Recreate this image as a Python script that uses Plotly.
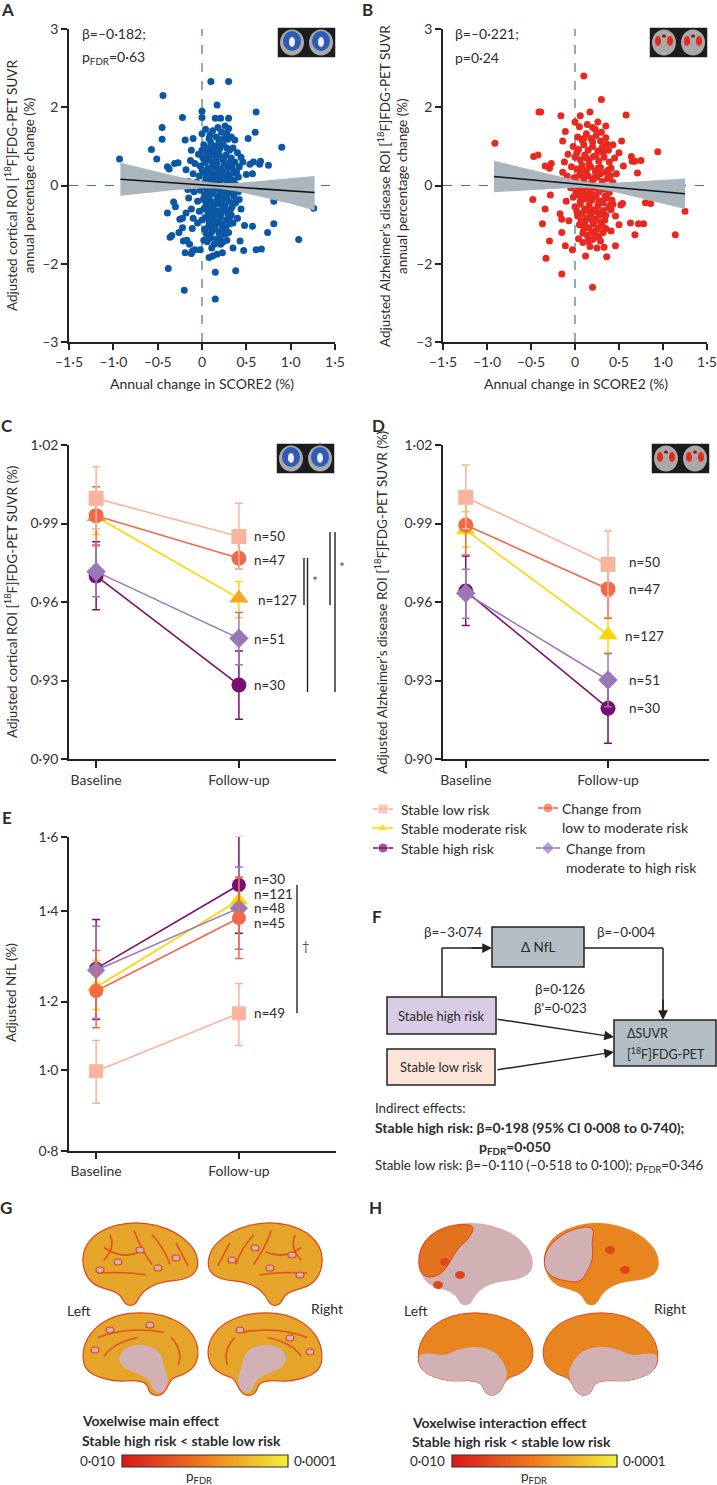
import plotly.graph_objects as go

W, H = 717, 1485
MAIN = "Lato, 'Noto Sans', sans-serif"
TXT = "#2b2b2b"
AX = "#222222"

# ---------------- data ----------------
# A / B: y is in plotted units (axis ticks in the source are evenly spaced: -3, -2, 0, 2, 3)
A_pts = [
    (0.10, 1.33), (0.30, 1.33), (-0.44, 1.15), (0.17, 1.03), (0.00, 0.95), (0.61, 0.94),
    (0.00, 0.87), (-0.22, 0.87), (0.15, 0.86), (0.21, 0.86), (0.30, 0.86),
    (-0.45, 0.74), (0.18, 0.74), (0.26, 0.76), (0.30, 0.73), (0.60, 0.68),
    (-0.45, 0.59), (-0.19, 0.58), (-0.10, 0.60), (0.00, 0.66), (0.09, 0.65), (0.19, 0.59),
    (0.28, 0.67), (0.29, 0.59), (0.37, 0.58), (0.52, 0.60),
    (0.90, 0.49), (-0.57, 0.46), (-0.93, 0.34), (-0.51, 0.34), (-0.37, 0.21), (-0.31, 0.28),
    (-0.27, 0.29), (-0.39, 0.24), (-0.18, 0.20),
    (0.46, 0.30), (0.58, 0.30), (0.65, 0.27), (0.75, 0.26), (0.54, 0.27), (0.66, 0.31), (0.50, 0.14), (0.57, 0.15),
    (1.26, -0.29), (0.81, -0.20), (1.09, -0.69), (0.81, -0.49), (0.74, -0.60), (0.67, -0.81), (0.57, -0.52),
    (0.48, -0.51), (0.61, -0.82), (0.47, -0.83), (0.43, -0.71), (0.35, -0.80),
    (0.38, -1.09), (0.15, -1.11), (0.15, -1.45), (-0.20, -1.34), (-0.38, -1.06),
    (-0.36, -0.66), (-0.34, -0.64), (-0.39, -0.35), (-0.32, -0.21), (-0.22, -0.42), (-0.22, -0.54),
    (-0.21, -0.71), (-0.26, -0.60), (-0.25, -0.43), (-0.30, -0.27), (-0.12, -0.30), (-0.15, -0.16),
    (-0.05, -0.48), (-0.02, -0.82), (-0.12, -0.87), (-0.11, -0.84), (-0.08, -0.82), (-0.17, -0.70),
    (-0.14, -0.75), (-0.19, -0.86),
    (0.02, -0.70), (0.06, -0.72), (0.10, -0.67), (0.14, -0.75), (0.12, -0.90), (0.08, -0.92), (0.23, -0.86),
    (0.20, -0.69), (0.24, -0.72), (0.30, -0.60), (0.35, -0.48), (0.40, -0.42), (0.33, -0.38), (0.37, -0.22),
    (0.42, -0.18), (0.44, -0.30),
    (0.02, 0.52), (0.06, 0.48), (0.10, 0.55), (0.14, 0.50), (0.20, 0.47), (0.24, 0.52), (0.31, 0.45), (0.35, 0.48), (0.40, 0.42),
    (-0.04, 0.40), (0.01, 0.35), (0.05, 0.41), (0.09, 0.38), (0.13, 0.43), (0.16, 0.36), (0.19, 0.40), (0.23, 0.34),
    (0.27, 0.39), (0.33, 0.35), (0.37, 0.30), (0.44, 0.36),
    (-0.08, 0.28), (-0.02, 0.25), (0.03, 0.29), (0.07, 0.22), (0.11, 0.30), (0.14, 0.24), (0.17, 0.28), (0.21, 0.21),
    (0.25, 0.27), (0.29, 0.22), (0.34, 0.24), (0.39, 0.18), (0.42, 0.24),
    (-0.10, 0.15), (-0.03, 0.12), (0.02, 0.17), (0.05, 0.10), (0.09, 0.15), (0.12, 0.08), (0.16, 0.16), (0.19, 0.10),
    (0.22, 0.14), (0.26, 0.09), (0.31, 0.13), (0.36, 0.07), (0.41, 0.11),
    (-0.06, 0.04), (0.00, 0.02), (0.04, 0.05), (0.08, -0.01), (0.11, 0.03), (0.15, -0.02), (0.18, 0.04), (0.23, -0.03),
    (0.28, 0.02), (0.33, -0.02), (0.38, 0.01),
    (-0.09, -0.08), (-0.02, -0.06), (0.03, -0.12), (0.06, -0.07), (0.10, -0.11), (0.13, -0.05), (0.17, -0.13), (0.20, -0.08),
    (0.24, -0.12), (0.27, -0.06), (0.32, -0.10), (0.36, -0.14), (0.41, -0.08),
    (-0.05, -0.20), (0.01, -0.18), (0.05, -0.24), (0.09, -0.19), (0.12, -0.26), (0.15, -0.21), (0.19, -0.24), (0.22, -0.18),
    (0.26, -0.25), (0.30, -0.20), (0.34, -0.27),
    (-0.03, -0.33), (0.02, -0.30), (0.07, -0.35), (0.10, -0.31), (0.14, -0.37), (0.18, -0.33), (0.21, -0.38), (0.25, -0.32),
    (0.29, -0.36), (0.32, -0.31),
    (0.00, -0.44), (0.04, -0.41), (0.08, -0.47), (0.12, -0.43), (0.16, -0.49), (0.19, -0.45), (0.23, -0.50), (0.27, -0.44), (0.31, -0.49),
    (0.03, -0.56), (0.07, -0.53), (0.11, -0.59), (0.15, -0.55), (0.19, -0.60), (0.23, -0.56), (0.26, -0.62),
    (0.09, -0.66), (0.17, -0.68), (0.21, -0.64),
    (-0.12, 0.45), (-0.13, 0.32), (-0.15, 0.05), (-0.16, -0.05), (-0.18, -0.35), (-0.10, -0.42), (-0.11, -0.55),
    (0.04, 0.72), (0.12, 0.70), (0.22, 0.68), (0.08, 0.60), (0.16, 0.62), (0.25, 0.60), (0.33, 0.62),
    (0.00, 0.45), (0.11, 0.46), (0.18, 0.52), (0.28, 0.48), (0.07, 0.33), (0.15, 0.30), (0.25, 0.35), (0.31, 0.29),
    (0.00, 0.20), (0.10, 0.22), (0.18, 0.19), (0.27, 0.17), (0.35, 0.16), (0.07, 0.07), (0.14, 0.10), (0.21, 0.07),
    (0.30, 0.06), (0.01, -0.02), (0.12, -0.08), (0.20, 0.00), (0.26, -0.13), (0.35, -0.06), (0.07, -0.16),
    (0.17, -0.19), (0.28, -0.17), (0.38, -0.22), (0.04, -0.27), (0.13, -0.30), (0.24, -0.28), (0.31, -0.41),
    (0.09, -0.40), (0.20, -0.41), (0.27, -0.53), (0.13, -0.52), (0.05, -0.62), (0.21, -0.75), (0.28, -0.70),
    (0.11, -0.80), (0.17, -0.88),
]

B_pts = [
    (0.10, 1.40), (0.30, 1.10), (-0.41, 0.94), (-0.39, 0.94), (-0.16, 0.89), (0.00, 0.81), (0.06, 0.89), (0.17, 0.94), (0.58, 0.90),
    (0.26, 0.81), (0.35, 0.76), (0.20, 0.74), (-0.11, 0.69), (-0.14, 0.57), (0.53, 0.57), (0.94, 0.43), (-0.91, 0.54),
    (-0.47, 0.37), (-0.42, 0.39), (-0.27, 0.28), (-0.29, 0.22), (-0.34, 0.25), (-0.14, 0.17),
    (0.64, 0.37), (0.65, 0.31), (0.68, 0.31), (0.75, 0.32), (0.71, 0.16), (0.50, 0.42), (0.55, 0.25), (0.47, 0.15),
    (-0.48, -0.18), (-0.28, -0.12), (-0.34, -0.30), (-0.37, -0.49), (-0.29, -0.71), (-0.33, -0.93), (-0.15, -1.13), (0.20, -1.30),
    (0.80, -0.22), (0.86, -0.23), (1.14, -0.63), (1.25, -0.33),
    (0.72, -0.49), (0.78, -0.49), (0.68, -0.63), (0.63, -0.48),
    (0.46, -0.77), (0.36, -0.91), (0.33, -0.79), (-0.03, -0.82), (-0.11, -0.77), (-0.17, -0.36), (-0.15, -0.43), (-0.15, -0.60),
    (0.41, -0.31), (0.43, -0.24), (0.54, -0.23), (0.52, -0.25), (0.32, -0.22), (0.32, -0.35), (0.46, -0.39),
    (0.41, -0.58), (0.50, -0.50),
    (0.09, -0.73), (0.15, -0.71), (0.20, -0.69), (0.27, -0.65), (0.29, -0.71), (0.32, -0.60),
    (0.03, 0.62), (0.08, 0.58), (0.13, 0.66), (0.18, 0.60), (0.24, 0.64), (0.29, 0.57), (0.35, 0.61),
    (-0.02, 0.50), (0.04, 0.46), (0.10, 0.52), (0.15, 0.45), (0.20, 0.50), (0.26, 0.44), (0.31, 0.49), (0.38, 0.45), (0.43, 0.52),
    (0.00, 0.36), (0.06, 0.33), (0.11, 0.39), (0.16, 0.32), (0.21, 0.37), (0.27, 0.31), (0.33, 0.36), (0.39, 0.30), (0.45, 0.35),
    (-0.04, 0.24), (0.02, 0.21), (0.08, 0.26), (0.13, 0.19), (0.18, 0.24), (0.23, 0.18), (0.29, 0.23), (0.35, 0.17), (0.41, 0.22),
    (-0.01, 0.10), (0.05, 0.13), (0.10, 0.07), (0.15, 0.12), (0.20, 0.06), (0.25, 0.11), (0.31, 0.05), (0.37, 0.09), (0.43, 0.04),
    (-0.05, -0.03), (0.03, -0.01), (0.07, -0.06), (0.12, -0.02), (0.17, -0.07), (0.22, -0.03), (0.27, -0.08), (0.33, -0.04), (0.39, -0.09),
    (-0.02, -0.15), (0.04, -0.12), (0.09, -0.18), (0.14, -0.13), (0.19, -0.19), (0.24, -0.14), (0.30, -0.20), (0.36, -0.16), (0.42, -0.19),
    (0.00, -0.27), (0.06, -0.24), (0.11, -0.30), (0.16, -0.25), (0.21, -0.31), (0.26, -0.26), (0.32, -0.32), (0.38, -0.28),
    (0.03, -0.39), (0.08, -0.36), (0.13, -0.42), (0.18, -0.37), (0.23, -0.43), (0.28, -0.38), (0.34, -0.44),
    (0.05, -0.50), (0.11, -0.48), (0.16, -0.54), (0.21, -0.49), (0.26, -0.55), (0.31, -0.51),
    (0.09, -0.61), (0.14, -0.64), (0.19, -0.60), (0.24, -0.66),
    (-0.08, 0.40), (-0.09, 0.12), (-0.10, -0.20), (-0.07, -0.45), (-0.12, 0.30),
    (0.05, 0.75), (0.14, 0.78), (0.23, 0.72), (0.30, 0.68), (0.10, 0.60), (0.20, 0.56), (0.36, 0.53),
    (0.02, 0.42), (0.13, 0.35), (0.24, 0.38), (0.32, 0.42), (0.07, 0.20), (0.16, 0.26), (0.26, 0.22), (0.38, 0.20),
    (0.01, 0.05), (0.11, 0.12), (0.22, 0.10), (0.29, 0.15), (0.40, 0.12), (0.08, 0.00), (0.18, 0.02), (0.30, -0.01),
    (0.37, -0.03), (0.01, -0.09), (0.10, -0.10), (0.21, -0.12), (0.34, -0.13), (0.06, -0.20), (0.16, -0.18),
    (0.27, -0.21), (0.40, -0.25), (0.02, -0.33), (0.14, -0.32), (0.25, -0.34), (0.35, -0.38), (0.07, -0.45),
    (0.19, -0.44), (0.29, -0.47), (0.10, -0.56), (0.23, -0.58), (0.35, -0.55), (0.04, -0.68), (0.17, -0.78),
    (0.25, -0.80), (0.12, -0.90),
]

A_band_x = [-0.92, -0.6, -0.3, 0.0, 0.17, 0.4, 0.7, 1.0, 1.27]
A_fit = [0.08, 0.055, 0.032, 0.009, -0.004, -0.022, -0.045, -0.069, -0.09]
A_upper = [0.29, 0.205, 0.122, 0.054, 0.031, 0.033, 0.065, 0.096, 0.12]
A_lower = [-0.13, -0.095, -0.058, -0.036, -0.039, -0.077, -0.155, -0.234, -0.32]

B_band_x = [-0.92, -0.6, -0.3, 0.0, 0.2, 0.45, 0.7, 1.0, 1.25]
B_fit = [0.115, 0.082, 0.052, 0.021, 0.001, -0.024, -0.050, -0.080, -0.106]
B_upper = [0.315, 0.227, 0.147, 0.071, 0.036, 0.036, 0.050, 0.070, 0.089]
B_lower = [-0.085, -0.063, -0.043, -0.029, -0.034, -0.084, -0.150, -0.230, -0.301]

A_xticks = [-1.5, -1.0, -0.5, 0, 0.5, 1.0, 1.5]
A_xtext = ["\u20131\u00b75", "\u20131\u00b70", "\u20130\u00b75", "0", "0\u00b75", "1\u00b70", "1\u00b75"]
A_yticks = [-2, -1, 0, 1, 2]
A_ytext = ["\u20133", "\u20132", "0", "2", "3"]

# C / D / E groups (order: stable low, low->moderate, stable moderate, moderate->high, stable high)
groups = ["Stable low risk", "Change from low to moderate risk", "Stable moderate risk",
          "Change from moderate to high risk", "Stable high risk"]
g_colors = ["#F8B49C", "#F2694A", "#FFD500", "#9A78B8", "#7B0F6F"]
g_symbols = ["square", "circle", "triangle-up", "diamond", "circle"]
time_labels = ["Baseline", "Follow-up"]

C_base = [0.9996, 0.9930, 0.9926, 0.9716, 0.9700]
C_base_hi = [1.0117, 1.0040, 0.9999, 0.9818, 0.9830]
C_base_lo = [0.9880, 0.9815, 0.9858, 0.9620, 0.9570]
C_follow = [0.9850, 0.9767, 0.9614, 0.9461, 0.9283]
C_follow_hi = [0.9977, 0.9875, 0.9678, 0.9560, 0.9413]
C_follow_lo = [0.9727, 0.9727, 0.9540, 0.9360, 0.9152]
C_n = ["n=50", "n=47", "n=127", "n=51", "n=30"]

D_base = [1.0000, 0.9894, 0.9875, 0.9633, 0.9642]
D_base_hi = [1.0124, 1.0009, 0.9945, 0.9725, 0.9776]
D_base_lo = [0.9880, 0.9780, 0.9810, 0.9538, 0.9510]
D_follow = [0.9744, 0.9650, 0.9474, 0.9302, 0.9194]
D_follow_hi = [0.9871, 0.9760, 0.9540, 0.9404, 0.9323]
D_follow_lo = [0.9620, 0.9538, 0.9400, 0.9200, 0.9060]
D_n = ["n=50", "n=47", "n=127", "n=51", "n=30"]

CD_yticks = [0.90, 0.93, 0.96, 0.99, 1.02]
CD_ytext = ["0\u00b790", "0\u00b793", "0\u00b796", "0\u00b799", "1\u00b702"]

# E in plotted units (source tick labels are unevenly spaced)
E_base = [1.0025, 1.207, 1.217, 1.260, 1.264]
E_base_hi = [1.081, 1.310, 1.285, 1.372, 1.389]
E_base_lo = [0.921, 1.113, 1.160, 1.137, 1.134]
E_follow = [1.150, 1.393, 1.438, 1.418, 1.477]
E_follow_hi = [1.226, 1.497, 1.498, 1.523, 1.602]
E_follow_lo = [1.068, 1.290, 1.380, 1.313, 1.354]
E_n = ["n=49", "n=45", "n=121", "n=48", "n=30"]
E_yticks = [0.8, 1.006, 1.180, 1.411, 1.6]
E_ytext = ["0\u00b78", "1\u00b70", "1\u00b72", "1\u00b74", "1\u00b76"]

# ---------------- helpers ----------------
def fx(p):
    return p / W


def fy(p):
    return 1 - p / H


def note(x, y, text, size=14, anchor="center", color=TXT, angle=0, yanchor="middle"):
    return dict(x=x, y=y, xref="x6", yref="y6", text=text, showarrow=False, xanchor=anchor,
                yanchor=yanchor, textangle=angle, font=dict(family=MAIN, size=size, color=color))


def seg(x0, y0, x1, y1, color=AX, width=1.5, dash="solid", ref=("x6", "y6"), layer="above"):
    return dict(type="line", x0=x0, y0=y0, x1=x1, y1=y1, xref=ref[0], yref=ref[1],
                line=dict(color=color, width=width, dash=dash), layer=layer)


def box(x0, y0, x1, y1, fill, line=AX, width=1.5):
    return dict(type="rect", x0=x0, y0=y0, x1=x1, y1=y1, xref="x6", yref="y6",
                fillcolor=fill, line=dict(color=line, width=width), layer="above")


def ell(cx, cy, rx, ry, fill, line_w=0, line_c="rgba(0,0,0,0)"):
    return dict(type="circle", x0=cx - rx, x1=cx + rx, y0=cy - ry, y1=cy + ry, xref="x6", yref="y6",
                fillcolor=fill, line=dict(width=line_w, color=line_c), layer="above")


def place(pts, x0, y0, w, h, mirror):
    return [(x0 + ((1 - u) if mirror else u) * w, y0 + v * h) for u, v in pts]


def smooth(pts, x0, y0, w, h, mirror=False):
    c = place(pts, x0, y0, w, h, mirror)
    n = len(c)
    mids = [((c[i][0] + c[(i + 1) % n][0]) / 2, (c[i][1] + c[(i + 1) % n][1]) / 2) for i in range(n)]
    d = "M %.1f,%.1f" % mids[-1]
    for i in range(n):
        d += " Q %.1f,%.1f %.1f,%.1f" % (c[i][0], c[i][1], mids[i][0], mids[i][1])
    return d + " Z"


def blob(pts, x0, y0, w, h, fill, mirror=False, line_c=None, line_w=0):
    return dict(type="path", path=smooth(pts, x0, y0, w, h, mirror), xref="x6", yref="y6",
                fillcolor=fill, line=dict(color=line_c or "rgba(0,0,0,0)", width=line_w), layer="above")


def stroke(pts, x0, y0, w, h, color, mirror=False, width=1.6):
    a, b, c = place(pts, x0, y0, w, h, mirror)
    return dict(type="path", path="M %.1f,%.1f Q %.1f,%.1f %.1f,%.1f" % (a + b + c), xref="x6", yref="y6",
                line=dict(color=color, width=width), opacity=0.85, layer="above")


fig = go.Figure()
shapes, anns = [], []

# ---------------- A & B scatter ----------------
for pts, bx, fit, up, lo, col, xa, ya in [
    (A_pts, A_band_x, A_fit, A_upper, A_lower, "#0B57A4", "x", "y"),
    (B_pts, B_band_x, B_fit, B_upper, B_lower, "#E8291F", "x2", "y2"),
]:
    shapes.append(seg(0, -2, 0, 2, color="#4E7383", width=1.2, dash="dash", ref=(xa, ya), layer="below"))
    shapes.append(seg(-1.5, 0, 1.5, 0, color="#4E7383", width=1.2, dash="dash", ref=(xa, ya), layer="below"))
    fig.add_trace(go.Scatter(x=[p[0] for p in pts], y=[p[1] for p in pts], mode="markers",
                             marker=dict(size=7, color=col), xaxis=xa, yaxis=ya, showlegend=False))
    fig.add_trace(go.Scatter(x=bx, y=up, mode="lines", line=dict(width=0), xaxis=xa, yaxis=ya, showlegend=False))
    fig.add_trace(go.Scatter(x=bx, y=lo, mode="lines", line=dict(width=0), fill="tonexty",
                             fillcolor="#ABB5BD", xaxis=xa, yaxis=ya, showlegend=False))
    fig.add_trace(go.Scatter(x=[bx[0], bx[-1]], y=[fit[0], fit[-1]], mode="lines",
                             line=dict(color="#111111", width=1.6), xaxis=xa, yaxis=ya, showlegend=False))

# ---------------- C, D, E line plots ----------------
draw_order = [2, 4, 3, 1, 0]
for base, bhi, blo, fol, fhi, flo, xa, ya, msz in [
    (C_base, C_base_hi, C_base_lo, C_follow, C_follow_hi, C_follow_lo, "x3", "y3", 15),
    (D_base, D_base_hi, D_base_lo, D_follow, D_follow_hi, D_follow_lo, "x4", "y4", 15),
    (E_base, E_base_hi, E_base_lo, E_follow, E_follow_hi, E_follow_lo, "x5", "y5", 14),
]:
    for g in draw_order:
        col = g_colors[g]
        mcol = "#F6A623" if (xa == "x3" and g == 2) else col
        fig.add_trace(go.Scatter(
            x=[0, 1], y=[base[g], fol[g]], mode="lines+markers", name=groups[g],
            line=dict(color=col, width=1.6),
            marker=dict(symbol=g_symbols[g], size=msz + (2 if g == 2 else 0), color=mcol),
            error_y=dict(type="data", symmetric=False,
                         array=[bhi[g] - base[g], fhi[g] - fol[g]],
                         arrayminus=[base[g] - blo[g], fol[g] - flo[g]],
                         color=col, thickness=1.5, width=4),
            xaxis=xa, yaxis=ya, showlegend=False, cliponaxis=False))

# n labels
for lbl, (x, y) in zip(C_n, [(252, 536), (252, 560), (256, 600), (252, 639), (252, 685)]):
    anns.append(note(x, y, lbl, anchor="left", size=13.5))
for lbl, (x, y) in zip(D_n, [(627, 562), (627, 589), (623, 636), (627, 680), (627, 708)]):
    anns.append(note(x, y, lbl, anchor="left", size=13.5))
for lbl, (x, y) in zip(E_n, [(252, 1013), (252, 923), (252, 894), (252, 908), (252, 879)]):
    anns.append(note(x, y, lbl, anchor="left", size=13.5))

# significance bars
for x, y0, y1 in [(304, 558, 605), (307.5, 558, 692), (330, 532, 605), (335, 532, 692), (297, 885, 1013)]:
    shapes.append(seg(x, y0, x, y1, width=1.4))
anns.append(note(315, 580, "*", size=14, color="#555"))
anns.append(note(342, 566, "*", size=14, color="#555"))
anns.append(note(306, 946, "\u2020", size=13, color="#555"))

# ---------------- legend (drawn) ----------------
leg = [(0, 373, 393, 809), (2, 372, 393, 828), (4, 373, 393, 848), (1, 538, 558, 808), (3, 536, 560, 848)]
for g, x0, x1, y in leg:
    fig.add_trace(go.Scatter(x=[x0, (x0 + x1) / 2, x1], y=[y, y, y], mode="lines+markers",
                             line=dict(color=g_colors[g], width=1.6),
                             marker=dict(symbol=g_symbols[g], size=[0, 10, 0], color=g_colors[g]),
                             xaxis="x6", yaxis="y6", showlegend=False, cliponaxis=False))
anns += [
    note(399, 809, "Stable low risk", anchor="left"),
    note(399, 828, "Stable moderate risk", anchor="left"),
    note(399, 848, "Stable high risk", anchor="left"),
    note(560, 808, "Change from", anchor="left"),
    note(560, 827, "low to moderate risk", anchor="left"),
    note(564, 848, "Change from", anchor="left"),
    note(564, 867, "moderate to high risk", anchor="left"),
]

# ---------------- axis titles / panel text ----------------
anns += [
    note(7, 9, "<b>A</b>", size=17), note(367, 9, "<b>B</b>", size=17),
    note(7, 425, "<b>C</b>", size=17), note(378, 425, "<b>D</b>", size=17),
    note(7, 817, "<b>E</b>", size=17), note(377, 916, "<b>F</b>", size=17),
    note(6, 1207, "<b>G</b>", size=17), note(375, 1207, "<b>H</b>", size=17),
    note(80, 33, "\u03b2=\u20130\u00b7182;", anchor="left", size=14),
    note(80, 57, "p<sub>FDR</sub>=0\u00b763", anchor="left", size=14),
    note(453, 33, "\u03b2=\u20130\u00b7221;", anchor="left", size=14),
    note(453, 57, "p=0\u00b724", anchor="left", size=14),
    note(202, 383, "Annual change in SCORE2 (%)"),
    note(576, 383, "Annual change in SCORE2 (%)"),
    note(19, 186, "Adjusted cortical ROI [<sup>18</sup>F]FDG-PET SUVR<br>annual percentage change (%)", angle=-90, size=13.5),
    note(392, 186, "Adjusted Alzheimer\u2019s disease ROI [<sup>18</sup>F]FDG-PET SUVR<br>annual percentage change (%)", angle=-90, size=13.5),
    note(11, 602, "Adjusted cortical ROI [<sup>18</sup>F]FDG-PET SUVR (%)", angle=-90, size=13.5),
    note(381, 603, "Adjusted Alzheimer\u2019s disease ROI [<sup>18</sup>F]FDG-PET SUVR (%)", angle=-90, size=13.5),
    note(11, 993, "Adjusted NfL (%)", angle=-90, size=13.5),
]

# MRI thumbnails
for x0, y0, red in [(278, 28, False), (650, 28, True), (277, 444, False), (652, 444, True)]:
    shapes.append(box(x0, y0, x0 + 57, y0 + 29, "#1c1c1c", line="#1c1c1c", width=0.5))
    for k in range(2):
        cx = x0 + 14 + k * 29
        shapes.append(ell(cx, y0 + 14.5, 12, 13, "#a9a9a9"))
        if red:
            shapes.append(ell(cx - 6, y0 + 13, 3, 5, "#E8291F"))
            shapes.append(ell(cx + 6, y0 + 13, 3, 5, "#E8291F"))
            shapes.append(ell(cx, y0 + 8, 2, 1.5, "#8B1010"))
        else:
            shapes.append(ell(cx, y0 + 13, 9, 10, "#2D5CB8"))
            shapes.append(ell(cx, y0 + 14, 3, 5, "#f0f0f0"))

# ---------------- F diagram ----------------
shapes += [
    box(492, 927, 584, 967, "#B3BDC5"),
    box(387, 997, 496, 1034, "#D8CBE4"),
    box(387, 1049, 495, 1085, "#FCE4D8"),
    box(614, 1020, 716, 1066, "#B3BDC5"),
    seg(442, 997, 442, 948), seg(442, 948, 484, 948),
    seg(584, 948, 663, 948), seg(663, 948, 663, 1012),
]
for hx, hy, tx, ty in [(492, 948, 470, 948), (663, 1020, 663, 998), (614, 1037, 496, 1019), (614, 1052, 496, 1070)]:
    anns.append(dict(x=hx, y=hy, ax=tx, ay=ty, xref="x6", yref="y6", axref="x6", ayref="y6", text="",
                     showarrow=True, arrowhead=2, arrowsize=1.3, arrowwidth=1.5, arrowcolor=AX, standoff=0))
anns += [
    note(538, 947, "\u0394 NfL", size=13.5),
    note(441, 1016, "Stable high risk", size=13),
    note(441, 1067, "Stable low risk", size=13),
    note(625, 1033, "\u0394SUVR", size=12.5, anchor="left"),
    note(625, 1053, "[<sup>18</sup>F]FDG-PET", size=12.5, anchor="left"),
    note(453, 932, "\u03b2=\u20133\u00b7074", size=13.5),
    note(626, 932, "\u03b2=\u20130\u00b7004", size=13.5),
    note(560, 989, "\u03b2=0\u00b7126", size=13.5),
    note(560, 1008, "\u03b2'=0\u00b7023", size=13.5),
    note(373, 1108, "Indirect effects:", size=13.3, anchor="left"),
    note(373, 1127, "<b>Stable high risk: \u03b2=0\u00b7198 (95% CI 0\u00b7008 to 0\u00b7740);</b>", size=14, anchor="left"),
    note(477, 1147, "<b>p<sub>FDR</sub>=0\u00b7050</b>", size=14, anchor="left"),
    note(373, 1166, "Stable low risk: \u03b2=\u20130\u00b7110 (\u20130\u00b7518 to 0\u00b7100); p<sub>FDR</sub>=0\u00b7346", size=13.3, anchor="left"),
]

# ---------------- G / H brain renderings (illustrative) ----------------
LAT = [(0.02, 0.50), (0.03, 0.33), (0.10, 0.18), (0.22, 0.07), (0.38, 0.01), (0.55, 0.01), (0.72, 0.07),
       (0.86, 0.18), (0.96, 0.33), (0.99, 0.50), (0.95, 0.62), (0.85, 0.68), (0.70, 0.70), (0.58, 0.76),
       (0.50, 0.86), (0.46, 0.98), (0.38, 0.98), (0.34, 0.86), (0.26, 0.80), (0.14, 0.76), (0.06, 0.66)]
MED = [(0.02, 0.55), (0.04, 0.35), (0.14, 0.16), (0.30, 0.04), (0.50, 0.00), (0.70, 0.04), (0.86, 0.14),
       (0.96, 0.30), (0.99, 0.48), (0.96, 0.64), (0.86, 0.74), (0.76, 0.78), (0.72, 0.92), (0.66, 0.99),
       (0.58, 0.96), (0.56, 0.84), (0.46, 0.80), (0.30, 0.82), (0.14, 0.76), (0.05, 0.68)]
MED_CORE = [(0.35, 0.45), (0.45, 0.38), (0.60, 0.40), (0.68, 0.50), (0.70, 0.65), (0.74, 0.80), (0.70, 0.95),
            (0.62, 0.95), (0.58, 0.80), (0.48, 0.72), (0.36, 0.66), (0.32, 0.55)]
H_FRONT = [(0.03, 0.45), (0.05, 0.30), (0.12, 0.16), (0.24, 0.06), (0.40, 0.02), (0.50, 0.05), (0.45, 0.20),
           (0.36, 0.30), (0.30, 0.45), (0.22, 0.62), (0.10, 0.66), (0.04, 0.58)]
H_BACK = [(0.55, 0.05), (0.72, 0.07), (0.86, 0.18), (0.96, 0.33), (0.98, 0.50), (0.94, 0.62), (0.85, 0.68),
          (0.68, 0.72), (0.62, 0.60), (0.56, 0.42), (0.58, 0.25)]
H_MEDPINK = [(0.02, 0.50), (0.12, 0.48), (0.25, 0.52), (0.35, 0.44), (0.50, 0.40), (0.65, 0.45), (0.72, 0.55),
             (0.78, 0.72), (0.72, 0.92), (0.66, 0.99), (0.58, 0.96), (0.56, 0.84), (0.46, 0.80), (0.30, 0.82),
             (0.14, 0.76), (0.05, 0.68)]
LAT_SULCI = [[(0.20, 0.30), (0.35, 0.45), (0.50, 0.35)], [(0.45, 0.10), (0.50, 0.30), (0.60, 0.50)],
             [(0.60, 0.15), (0.70, 0.30), (0.75, 0.50)], [(0.15, 0.60), (0.35, 0.58), (0.55, 0.62)],
             [(0.80, 0.25), (0.86, 0.40), (0.90, 0.52)], [(0.25, 0.15), (0.30, 0.30), (0.20, 0.45)]]
MED_SULCI = [[(0.15, 0.30), (0.40, 0.16), (0.70, 0.24)], [(0.20, 0.52), (0.28, 0.36), (0.48, 0.30)],
             [(0.76, 0.30), (0.86, 0.45), (0.82, 0.62)]]
GOLD, ORANGE, PINK, RED = "#E4A52A", "#E8851E", "#D2B1B4", "#E0461E"

# G
for x0, y0, w, mir, outline, sulci in [(80, 1222, 120, False, LAT, LAT_SULCI), (206, 1222, 119, True, LAT, LAT_SULCI),
                                        (80, 1312, 120, False, MED, MED_SULCI), (206, 1312, 119, True, MED, MED_SULCI)]:
    shapes.append(blob(outline, x0, y0, w, 85, GOLD, mirror=mir, line_c=RED, line_w=1.2))
    for s in sulci:
        shapes.append(stroke(s, x0, y0, w, 85, RED, mirror=mir))
    if outline is MED:
        shapes.append(blob(MED_CORE, x0, y0, w, 85, PINK, mirror=mir))
for cx, cy in [(118, 1262), (140, 1250), (158, 1268), (176, 1258), (100, 1270), (232, 1260),
               (255, 1248), (270, 1268), (292, 1255), (300, 1275), (110, 1330), (150, 1325),
               (240, 1330), (290, 1338), (95, 1350), (310, 1352)]:
    shapes.append(ell(cx, cy, 4, 3, PINK, line_w=1.2, line_c=RED))

# H
shapes.append(blob(LAT, 415, 1222, 120, 85, PINK))
shapes.append(blob(H_FRONT, 415, 1222, 120, 85, "#E2721D", line_c=RED, line_w=1))
shapes.append(blob(LAT, 541, 1222, 120, 85, ORANGE))
shapes.append(blob(H_BACK, 541, 1222, 120, 85, PINK, mirror=True, line_c=RED, line_w=1))
shapes.append(blob(MED, 415, 1312, 120, 85, ORANGE, line_c=RED, line_w=1))
shapes.append(blob(MED, 541, 1312, 120, 85, ORANGE, mirror=True, line_c=RED, line_w=1))
shapes.append(blob(H_MEDPINK, 415, 1312, 120, 85, PINK))
shapes.append(blob(H_MEDPINK, 541, 1312, 120, 85, PINK, mirror=True))
for cx, cy in [(445, 1262), (460, 1275), (438, 1285), (610, 1250), (625, 1270)]:
    shapes.append(ell(cx, cy, 5, 4, RED))

anns += [
    note(65, 1310, "Left", size=14, anchor="left"),
    note(345, 1308, "Right", size=14, anchor="right"),
    note(402, 1310, "Left", size=14, anchor="left"),
    note(688, 1308, "Right", size=14, anchor="right"),
    note(80, 1420, "<b>Voxelwise main effect</b>", size=14, anchor="left"),
    note(80, 1440, "<b>Stable high risk &lt; stable low risk</b>", size=14, anchor="left"),
    note(410, 1422, "<b>Voxelwise interaction effect</b>", size=14, anchor="left"),
    note(410, 1441, "<b>Stable high risk &lt; stable low risk</b>", size=14, anchor="left"),
    note(117, 1461, "0\u00b7010", size=13.5, anchor="right"),
    note(292, 1461, "0\u00b70001", size=13.5, anchor="left"),
    note(199, 1477, "p<sub>FDR</sub>", size=13.5),
    note(447, 1461, "0\u00b7010", size=13.5, anchor="right"),
    note(621, 1461, "0\u00b70001", size=13.5, anchor="left"),
    note(534, 1477, "p<sub>FDR</sub>", size=13.5),
]
# colour bars
cscale = [[0, "#D7191C"], [0.5, "#EE7C1F"], [1, "#F4F03A"]]
for xa, ya in [("x7", "y7"), ("x8", "y8")]:
    fig.add_trace(go.Heatmap(z=[[0, 1], [0, 1]], x=[0, 1], y=[0, 1], zsmooth="best", colorscale=cscale,
                             showscale=False, xaxis=xa, yaxis=ya, hoverinfo="skip"))
shapes.append(dict(type="rect", x0=122, x1=288, y0=1455, y1=1467, xref="x6", yref="y6",
                   line=dict(color="#333", width=1.2), layer="above"))
shapes.append(dict(type="rect", x0=452, x1=617, y0=1455, y1=1467, xref="x6", yref="y6",
                   line=dict(color="#333", width=1.2), layer="above"))

# ---------------- layout ----------------
def axis(dom, rng, tv, tt, anchor, ticklen=6):
    return dict(domain=dom, range=rng, tickvals=tv, ticktext=tt, anchor=anchor, showline=True,
                linecolor=AX, linewidth=1.5, ticks="outside", ticklen=ticklen, tickwidth=1.5, tickcolor=AX,
                showgrid=False, zeroline=False, automargin=False, ticklabeloverflow="allow",
                tickfont=dict(family=MAIN, size=14, color="#333"), fixedrange=True)


hidden = dict(visible=False, fixedrange=True, automargin=False)
fig.update_layout(
    width=W, height=H, margin=dict(l=0, r=0, t=0, b=0, pad=0, autoexpand=False),
    paper_bgcolor="white", plot_bgcolor="rgba(0,0,0,0)", showlegend=False,
    xaxis=axis([fx(69), fx(335)], [-1.5, 1.5], A_xticks, A_xtext, "y"),
    yaxis=axis([fy(342), fy(29)], [-2, 2], A_yticks, A_ytext, "x"),
    xaxis2=axis([fx(443), fx(707)], [-1.5, 1.5], A_xticks, A_xtext, "y2"),
    yaxis2=axis([fy(342), fy(29)], [-2, 2], A_yticks, A_ytext, "x2"),
    xaxis3=axis([fx(69), fx(336)], [-0.19, 1.68], [0, 1], time_labels, "y3", 7),
    yaxis3=axis([fy(759), fy(445)], [0.90, 1.02], CD_yticks, CD_ytext, "x3"),
    xaxis4=axis([fx(443), fx(709)], [-0.16, 1.71], [0, 1], time_labels, "y4", 7),
    yaxis4=axis([fy(759), fy(445)], [0.90, 1.02], CD_yticks, CD_ytext, "x4"),
    xaxis5=axis([fx(69), fx(336)], [-0.19, 1.68], [0, 1], time_labels, "y5", 7),
    yaxis5=axis([fy(1150.7), fy(836.7)], [0.8, 1.6], E_yticks, E_ytext, "x5"),
    xaxis6=dict(domain=[0, 1], range=[0, W], anchor="y6", **hidden),
    yaxis6=dict(domain=[0, 1], range=[H, 0], anchor="x6", **hidden),
    xaxis7=dict(domain=[fx(122), fx(288)], range=[0, 1], anchor="y7", **hidden),
    yaxis7=dict(domain=[fy(1467), fy(1455)], range=[0, 1], anchor="x7", **hidden),
    xaxis8=dict(domain=[fx(452), fx(617)], range=[0, 1], anchor="y8", **hidden),
    yaxis8=dict(domain=[fy(1467), fy(1455)], range=[0, 1], anchor="x8", **hidden),
    shapes=shapes, annotations=anns,
)

# the page body has a default 8px margin; remove it so the figure sits at the window origin
fig.write_html("out.html", config={"displayModeBar": False},
               post_script="document.body.style.margin='0px';document.body.style.padding='0px';")
